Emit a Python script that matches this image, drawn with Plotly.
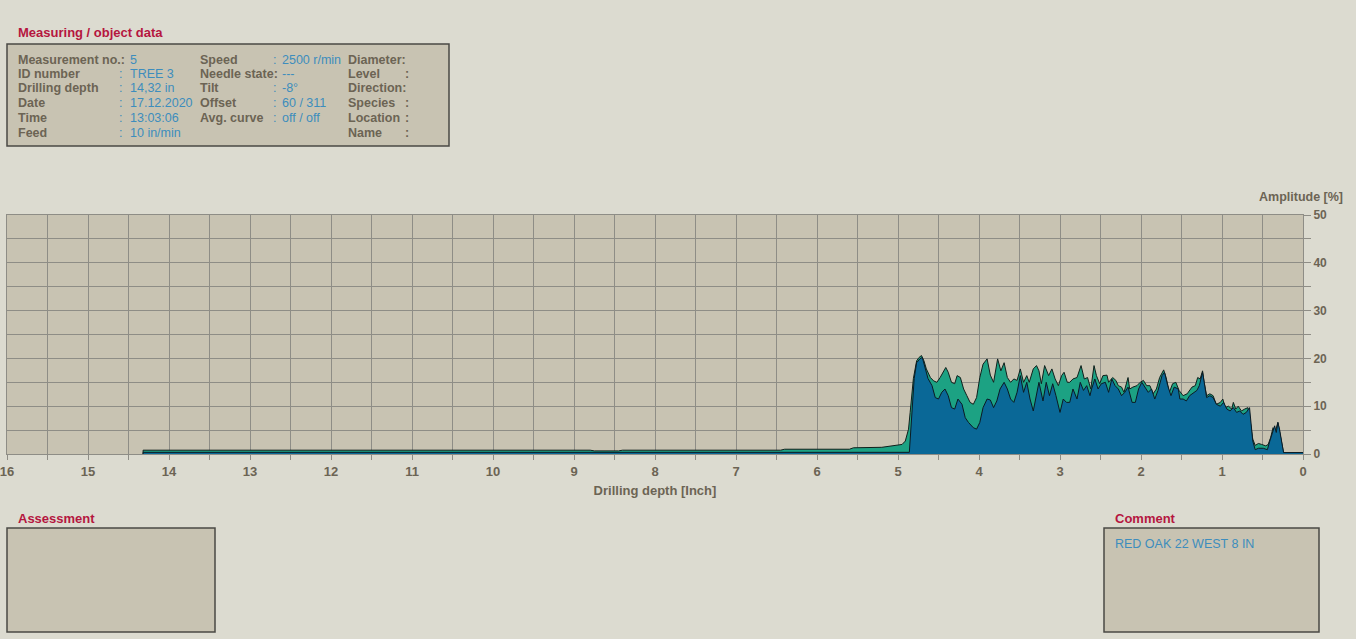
import plotly.graph_objects as go

W, H = 1356, 639

# ---------------- data ----------------
resist_depth = [14.32, 14.32, 8.8, 8.75, 8.45, 8.4, 6.45, 6.4, 5.6, 5.55, 5.2, 5.04, 4.95, 4.91, 4.87, 4.85,
                4.83, 4.81, 4.77, 4.74, 4.71, 4.68, 4.65, 4.60, 4.56, 4.52, 4.48, 4.44, 4.41, 4.38, 4.34,
                4.30, 4.27, 4.23, 4.19, 4.15, 4.11, 4.07, 4.03, 3.99, 3.95, 3.90, 3.86, 3.82, 3.77, 3.73,
                3.69, 3.65, 3.61, 3.57, 3.53, 3.49, 3.45, 3.41, 3.38, 3.33, 3.29, 3.26, 3.23, 3.19, 3.14,
                3.10, 3.06, 3.02, 2.98, 2.95, 2.91, 2.88, 2.84, 2.79, 2.74, 2.70, 2.66, 2.62, 2.58, 2.55,
                2.51, 2.47, 2.42, 2.40, 2.35, 2.31, 2.28, 2.24, 2.21, 2.16, 2.14, 2.10, 2.05, 2.01, 1.97,
                1.93, 1.89, 1.85, 1.81, 1.77, 1.72, 1.69, 1.65, 1.61, 1.57, 1.53, 1.48, 1.43, 1.37, 1.33,
                1.30, 1.27, 1.24, 1.22, 1.19, 1.15, 1.11, 1.07, 1.02, 0.99, 0.96, 0.92, 0.88, 0.86, 0.83,
                0.80, 0.76, 0.72, 0.68, 0.65, 0.62, 0.59, 0.55, 0.51, 0.46, 0.43, 0.40, 0.37, 0.34, 0.31,
                0.29, 0.26, 0.24, 0.0]
resist_amp = [0.0, 0.8, 0.8, 0.65, 0.65, 0.8, 0.8, 1.0, 1.0, 1.3, 1.4, 1.7, 2.0, 2.7, 5.2, 8.7,
              12.2, 15.8, 19.5, 20.2, 20.6, 19.5, 17.8, 16.0, 15.3, 15.0, 16.0, 17.1, 18.1, 17.1, 15.0,
              14.7, 16.4, 16.0, 13.6, 12.2, 10.8, 10.4, 11.8, 16.0, 18.8, 19.9, 16.5, 15.0, 19.9, 17.4,
              19.1, 16.0, 15.0, 15.7, 15.4, 17.8, 15.0, 16.4, 15.0, 17.8, 18.5, 17.4, 14.7, 18.5, 16.4,
              17.8, 15.7, 14.3, 16.4, 17.1, 15.0, 15.0, 15.7, 16.0, 18.5, 15.7, 16.0, 13.6, 18.5, 16.4,
              14.7, 16.4, 16.5, 15.0, 16.0, 15.4, 14.3, 14.0, 12.9, 16.0, 13.6, 14.0, 14.3, 15.0, 15.4,
              14.3, 14.3, 12.6, 13.6, 16.0, 17.6, 16.0, 12.9, 14.7, 15.0, 13.3, 12.2, 12.6, 14.0, 14.3,
              16.0, 15.7, 17.4, 15.0, 12.2, 12.6, 12.2, 10.4, 10.8, 11.5, 9.7, 10.0, 9.4, 10.8, 9.4,
              10.0, 9.0, 9.4, 9.7, 6.6, 3.1, 1.8, 2.2, 2.0, 1.7, 2.0, 3.4, 5.5, 4.8, 6.6,
              4.8, 1.7, 0.3, 0.3]

feed_depth = [14.32, 14.32, 4.86, 4.84, 4.82, 4.80, 4.77, 4.73, 4.70, 4.67, 4.63, 4.58, 4.54, 4.50, 4.46,
              4.42, 4.38, 4.34, 4.30, 4.26, 4.21, 4.17, 4.13, 4.07, 4.03, 3.99, 3.95, 3.90, 3.86, 3.82,
              3.78, 3.74, 3.69, 3.65, 3.61, 3.57, 3.53, 3.49, 3.45, 3.41, 3.37, 3.33, 3.29, 3.26, 3.21,
              3.17, 3.13, 3.09, 3.05, 3.00, 2.96, 2.92, 2.88, 2.84, 2.79, 2.75, 2.71, 2.67, 2.63, 2.61,
              2.57, 2.53, 2.49, 2.44, 2.40, 2.36, 2.32, 2.28, 2.24, 2.20, 2.16, 2.11, 2.07, 2.03, 1.99,
              1.95, 1.91, 1.87, 1.83, 1.79, 1.74, 1.71, 1.67, 1.63, 1.59, 1.54, 1.52, 1.48, 1.44, 1.40,
              1.35, 1.31, 1.28, 1.24, 1.22, 1.19, 1.15, 1.11, 1.07, 1.02, 0.98, 0.94, 0.90, 0.86, 0.82,
              0.78, 0.74, 0.70, 0.66, 0.64, 0.62, 0.59, 0.55, 0.49, 0.44, 0.41, 0.37, 0.35, 0.33, 0.31,
              0.29, 0.26, 0.24, 0.0]
feed_amp = [0.0, 0.35, 0.35, 5.0, 11.0, 15.8, 19.1, 19.9, 20.2, 18.1, 15.8, 14.3, 11.8, 11.5, 12.9,
            13.6, 12.2, 9.7, 9.4, 11.5, 10.4, 7.6, 6.6, 5.5, 5.2, 6.6, 9.7, 11.5, 11.3, 9.7,
            11.1, 13.6, 15.0, 13.6, 11.5, 10.8, 12.9, 16.4, 12.9, 15.0, 11.5, 9.0, 12.2, 15.0, 11.1,
            15.0, 12.2, 14.7, 12.2, 8.7, 11.5, 10.8, 10.8, 13.6, 11.5, 15.0, 13.3, 14.3, 12.2, 13.6,
            15.7, 13.6, 14.7, 15.0, 12.9, 15.7, 14.3, 13.6, 12.2, 12.9, 14.0, 10.8, 10.8, 13.6, 15.0,
            14.0, 12.9, 13.6, 11.5, 13.3, 16.4, 17.1, 14.3, 12.2, 14.0, 13.6, 11.5, 11.5, 11.1, 12.2,
            12.9, 13.3, 14.3, 17.1, 15.0, 11.8, 12.2, 11.8, 10.4, 10.0, 10.8, 9.4, 9.0, 9.7, 8.7,
            9.0, 8.3, 8.7, 9.7, 5.9, 2.7, 0.9, 1.2, 1.2, 0.9, 2.7, 5.2, 5.9, 4.5, 6.6,
            5.2, 1.7, 0.3, 0.3]

x_tick_vals = list(range(0, 17))
x_tick_text = [str(v) for v in x_tick_vals]
y_tick_vals = [0, 10, 20, 30, 40, 50]
y_tick_text = [str(v) for v in y_tick_vals]

info_col1_labels = ["Measurement no.:", "ID number", "Drilling depth", "Date", "Time", "Feed"]
info_col1_colon = ["", ":", ":", ":", ":", ":"]
info_col1_values = ["5", "TREE 3", "14,32 in", "17.12.2020", "13:03:06", "10 in/min"]
info_col2_labels = ["Speed", "Needle state:", "Tilt", "Offset", "Avg. curve", ""]
info_col2_colon = [":", "", ":", ":", ":", ""]
info_col2_values = ["2500 r/min", "---", "-8°", "60 / 311", "off / off", ""]
info_col3_labels = ["Diameter:", "Level", "Direction:", "Species", "Location", "Name"]
info_col3_colon = ["", ":", "", ":", ":", ":"]

comment_text = "RED OAK 22 WEST 8 IN"

# ---------------- style ----------------
PAGE_BG = "#dcdbd0"
PLOT_BG = "#c8c3b2"
GRID = "#8e8d86"
GREEN = "#1ca283"
BLUE = "#0a6897"
TITLE_RED = "#b5163f"
LABEL = "#6c6454"
VALUE = "#3d8dbd"
FONT = "Liberation Sans, Arial, sans-serif"
NARROW = "Liberation Sans Narrow, Arial Narrow, Liberation Sans, Arial, sans-serif"


def px(x):
    return x / W


def py(y):
    return 1 - y / H


fig = go.Figure()
fig.add_trace(go.Scatter(x=resist_depth, y=resist_amp, mode="lines", fill="tozeroy",
                         fillcolor=GREEN, line=dict(color="#10201c", width=1),
                         name="Drilling resistance", hoverinfo="skip"))
fig.add_trace(go.Scatter(x=feed_depth, y=feed_amp, mode="lines", fill="tozeroy",
                         fillcolor=BLUE, line=dict(color="#0b1a24", width=1),
                         name="Feed", hoverinfo="skip"))

fig.update_layout(
    width=W, height=H,
    margin=dict(l=0, r=0, t=0, b=0, pad=0, autoexpand=False),
    paper_bgcolor=PAGE_BG, plot_bgcolor=PLOT_BG,
    showlegend=False,
    font=dict(family=FONT, color=LABEL),
    xaxis=dict(
        domain=[px(7), px(1303)], range=[16, 0], automargin=False,
        tickmode="array", tickvals=x_tick_vals, ticktext=x_tick_text,
        ticklabeloverflow="allow",
        ticks="outside", ticklen=5, tickcolor=GRID,
        showgrid=True, gridcolor=GRID, gridwidth=1,
        minor=dict(dtick=0.5, showgrid=True, gridcolor=GRID, ticks="outside", ticklen=5, tickcolor=GRID),
        showline=True, linecolor=GRID, mirror=True, zeroline=False,
        tickfont=dict(family=NARROW, size=13, color=LABEL, weight="bold"),
        title=dict(text="Drilling depth [Inch]", standoff=8,
                   font=dict(family=NARROW, size=13, color=LABEL, weight="bold")),
    ),
    yaxis=dict(
        domain=[py(454), py(215)], range=[0, 50], side="right", automargin=False,
        tickmode="array", tickvals=y_tick_vals, ticktext=y_tick_text,
        ticklabeloverflow="allow",
        ticks="outside", ticklen=7, tickcolor=GRID,
        showgrid=True, gridcolor=GRID, gridwidth=1,
        minor=dict(dtick=5, showgrid=True, gridcolor=GRID, ticks="outside", ticklen=7, tickcolor=GRID),
        showline=True, linecolor=GRID, mirror=True, zeroline=False,
        tickfont=dict(family=NARROW, size=12, color=LABEL, weight="bold"),
    ),
)

shapes = []
annotations = []


def box(x0, y0, x1, y1):
    shapes.append(dict(type="rect", xref="paper", yref="paper",
                       x0=px(x0), x1=px(x1), y0=py(y1), y1=py(y0),
                       fillcolor=PLOT_BG, line=dict(color="#4a4a44", width=1.5), layer="below"))


def text(x, y, s, color, size=12, bold=False, anchor="left", family=FONT):
    if not s:
        return
    annotations.append(dict(xref="paper", yref="paper", x=px(x), y=py(y), text=s,
                            showarrow=False, xanchor=anchor, yanchor="middle",
                            font=dict(family=family, size=size, color=color,
                                      weight="bold" if bold else "normal")))


# header box
text(16, 33, "Measuring / object data", TITLE_RED, 13, True)
box(7, 44, 449, 146)
row_y = [59.5, 73.5, 88, 103, 118, 132.5]
for i, yy in enumerate(row_y):
    text(16, yy, info_col1_labels[i], LABEL, 12.5, True)
    text(117, yy, info_col1_colon[i], VALUE, 12.5)
    text(128, yy, info_col1_values[i], VALUE, 12.5)
    text(198, yy, info_col2_labels[i], LABEL, 12.5, True)
    text(271, yy, info_col2_colon[i], VALUE, 12.5)
    text(280, yy, info_col2_values[i], VALUE, 12.5)
    text(346, yy, info_col3_labels[i], LABEL, 12.5, True)
    text(403, yy, info_col3_colon[i], LABEL, 12.5, True)

# axis title for amplitude
text(1345, 197, "Amplitude [%]", LABEL, 12.5, True, anchor="right", family=NARROW)

# assessment
text(16, 518, "Assessment", TITLE_RED, 13, True)
box(7, 528, 215, 632)

# comment
text(1113, 518, "Comment", TITLE_RED, 13, True)
box(1104, 528, 1319, 632)
text(1113, 544, comment_text, VALUE, 12.5)

fig.update_layout(shapes=shapes, annotations=annotations)

fig.write_html("out.html", config={"displayModeBar": False})

# remove default body margin so the figure sits at the page origin
with open("out.html", "r", encoding="utf-8") as f:
    html = f.read()
html = html.replace("<body>", '<body style="margin:0;background:%s">' % PAGE_BG, 1)
with open("out.html", "w", encoding="utf-8") as f:
    f.write(html)
